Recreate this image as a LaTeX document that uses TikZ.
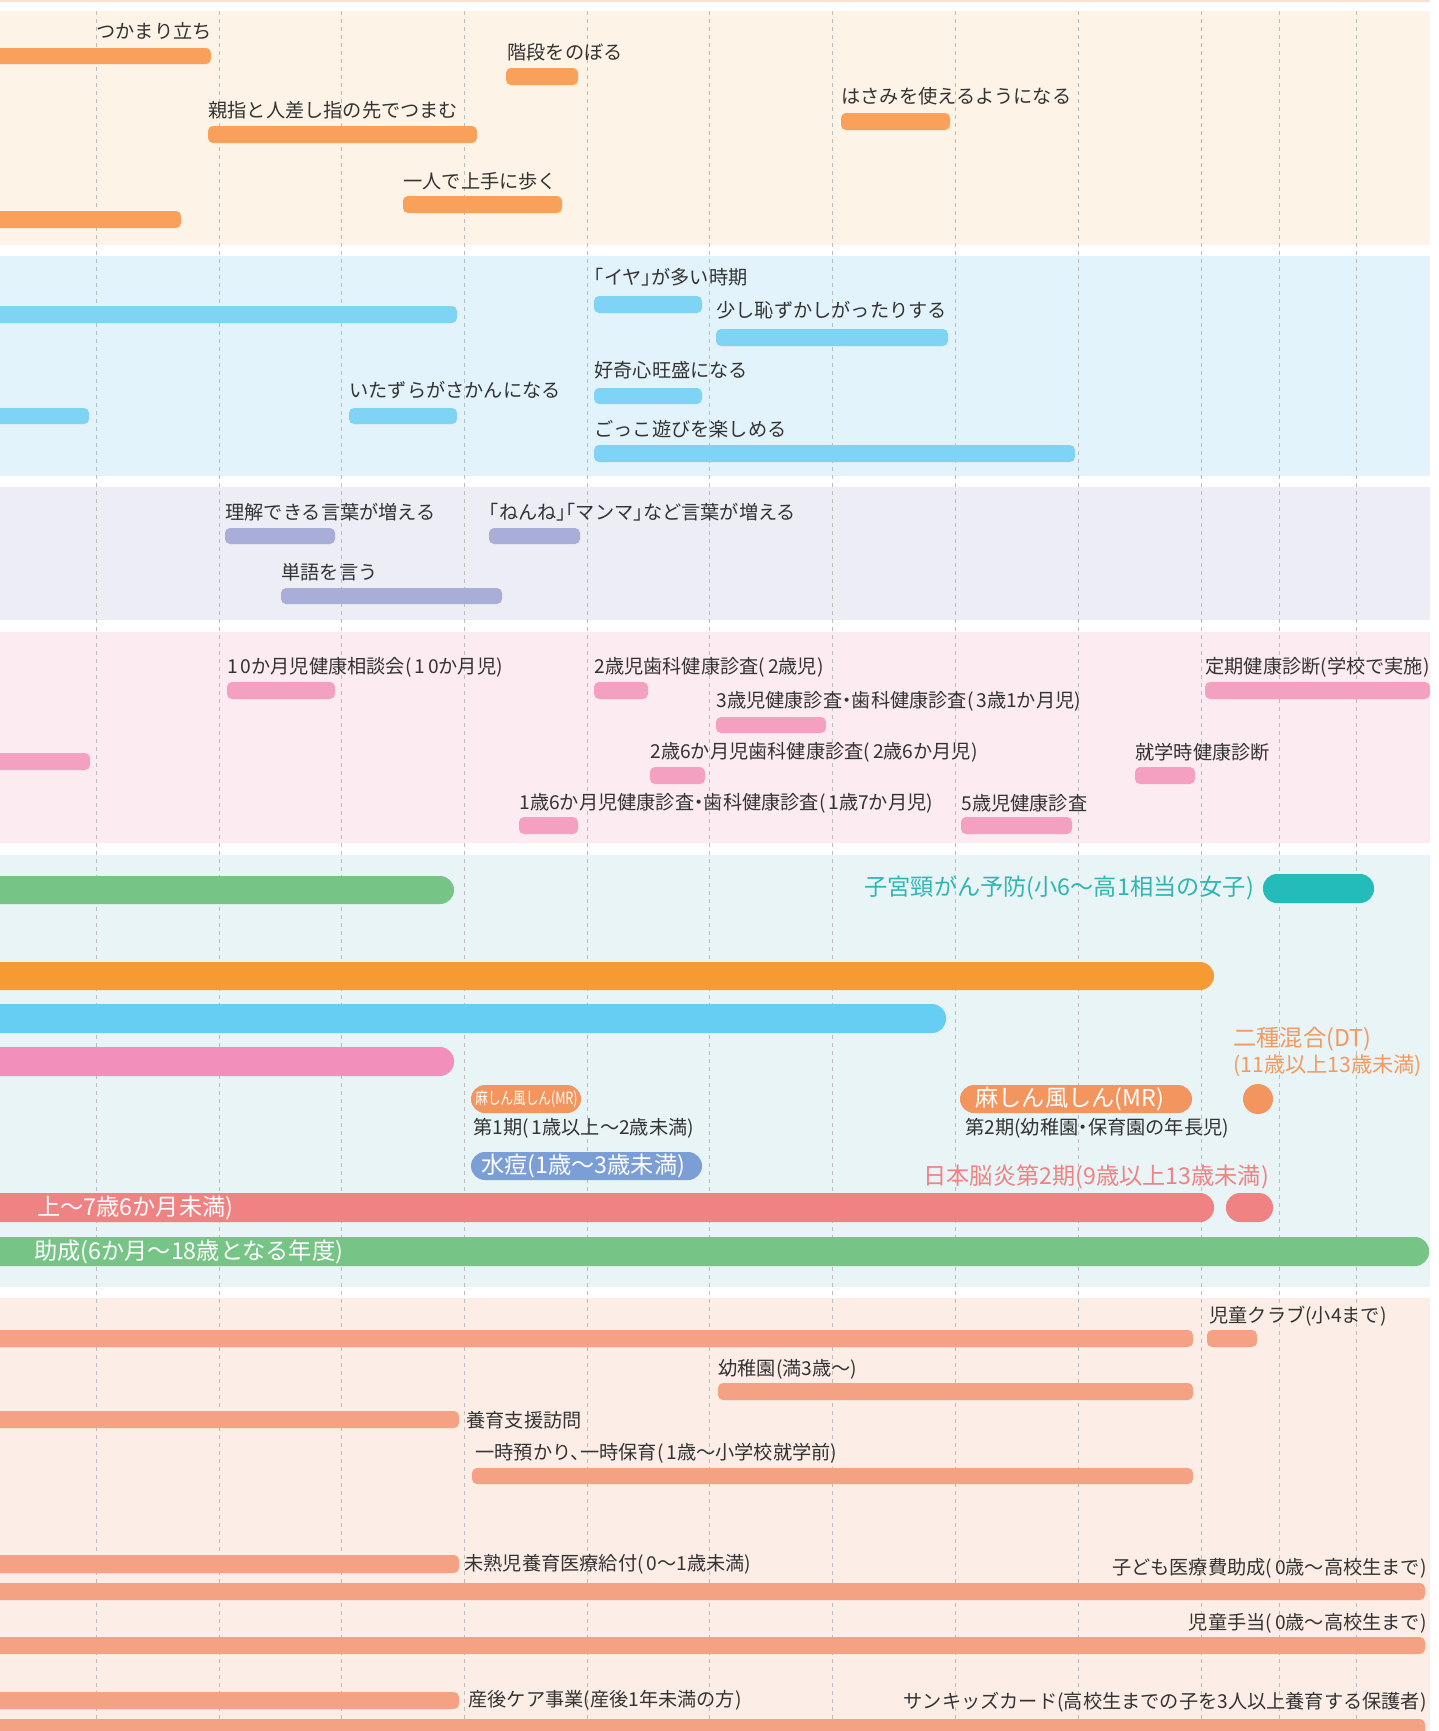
\documentclass[tikz,border=0pt]{standalone}
\usepackage{fontspec}
\setmainfont[RawFeature={+halt}]{Noto Sans CJK JP}
\newfontfamily\latinwide[LetterSpace=15]{Noto Sans CJK JP}
\newcommand{\lw}[1]{{\latinwide #1}}
\usepackage{tikz}
\usetikzlibrary{calc}

\definecolor{bandmotor}{HTML}{FDF3E6}
\definecolor{bandemo}{HTML}{E3F3FB}
\definecolor{bandlang}{HTML}{ECEDF5}
\definecolor{bandcheck}{HTML}{FCEBF1}
\definecolor{bandvac}{HTML}{E8F4F6}
\definecolor{bandsvc}{HTML}{FCEEE7}
\definecolor{topline}{HTML}{FBE0D2}
\definecolor{gridgray}{HTML}{BDBDBD}
\definecolor{txtgray}{HTML}{333333}
\definecolor{motor}{HTML}{F9A05B}
\definecolor{emo}{HTML}{7FD3F5}
\definecolor{lang}{HTML}{A9AED8}
\definecolor{check}{HTML}{F4A1C1}
\definecolor{vgreen}{HTML}{77C487}
\definecolor{vorange}{HTML}{F69B33}
\definecolor{vblue}{HTML}{66CEF3}
\definecolor{vpink}{HTML}{F290BB}
\definecolor{mrcol}{HTML}{F3955F}
\definecolor{varcol}{HTML}{7C9ED6}
\definecolor{vred}{HTML}{F08283}
\definecolor{vteal}{HTML}{23BCBA}
\definecolor{tealtxt}{HTML}{2DB6B3}
\definecolor{dttxt}{HTML}{F39A60}
\definecolor{svc}{HTML}{F4A184}

\tikzset{
  gridline/.style={draw=gridgray,line width=0.5pt,dash pattern=on 2pt off 2pt},
  thinbar/.style={rounded corners=2.5pt},
  fatbar/.style={rounded corners=7pt},
  lbl/.style={anchor=west,inner sep=0pt,text=txtgray,font=\fontsize{9.6}{10}\selectfont},
  rlbl/.style={lbl,anchor=east},
  vlbl/.style={anchor=west,inner sep=0pt,font=\fontsize{11.6}{12}\selectfont},
}

\begin{document}
\begin{tikzpicture}[x=0.5pt,y=-0.5pt]
        \useasboundingbox (0,0) rectangle (1439,1731);
        \clip (0,0) rectangle (1439,1731);
        % background bands
        \fill[topline] (0,0) rectangle (1430,2);
        \fill[bandmotor] (0,11) rectangle (1430,245);
        \fill[bandemo] (0,256) rectangle (1430,476);
        \fill[bandlang] (0,487) rectangle (1430,620);
        \fill[bandcheck] (0,632) rectangle (1430,843);
        \fill[bandvac] (0,855) rectangle (1430,1287);
        \fill[bandsvc] (0,1298) rectangle (1430,1740);
        % draw the age grid
        \foreach \gx in {96,219,341,464,587,709,832,955,1078,1201,1279,1356}
            \draw[gridline] (\gx,11) -- (\gx,1731);

        % motor development
        \fill[motor,thinbar] (-10,48) rectangle (211,64);
        \fill[motor,thinbar] (506,68) rectangle (578,85);
        \fill[motor,thinbar] (208,126) rectangle (477,143);
        \fill[motor,thinbar] (403,196) rectangle (562,213);
        \fill[motor,thinbar] (-10,211) rectangle (181,228);
        \fill[motor,thinbar] (841,113) rectangle (950,130);
        \node[lbl] (stand) at (96,31) {つかまり立ち};
        \node[lbl] (stairs) at (507,52) {階段をのぼる};
        \node[lbl] (pinch) at (208,110) {親指と人差し指の先でつまむ};
        \node[lbl] (walk) at (403,181) {一人で上手に歩く};
        \node[lbl] (scissors) at (841,96) {はさみを使えるようになる};

        % emotions
        \fill[emo,thinbar] (-10,306) rectangle (457,323);
        \fill[emo,thinbar] (594,296) rectangle (702,313);
        \fill[emo,thinbar] (716,329) rectangle (948,346);
        \fill[emo,thinbar] (594,388) rectangle (702,404);
        \fill[emo,thinbar] (349,408) rectangle (457,424);
        \fill[emo,thinbar] (-10,408) rectangle (89,424);
        \fill[emo,thinbar] (594,445) rectangle (1075,462);
        \node[lbl] (iya) at (594,277) {「イヤ」が多い時期};
        \node[lbl] (shy) at (716,310) {少し恥ずかしがったりする};
        \node[lbl] (curious) at (594,370) {好奇心旺盛になる};
        \node[lbl] (mischief) at (349,390) {いたずらがさかんになる};
        \node[lbl] (pretend) at (594,429) {ごっこ遊びを楽しめる};

        % language
        \fill[lang,thinbar] (225,528) rectangle (335,544);
        \fill[lang,thinbar] (489,528) rectangle (580,544);
        \fill[lang,thinbar] (281,588) rectangle (502,604);
        \node[lbl] (understand) at (225,512) {理解できる言葉が増える};
        \node[lbl] (nenne) at (489,512) {「ねんね」「マンマ」など言葉が増える};
        \node[lbl] (words) at (281,572) {単語を言う};

        % health checks
        \fill[check,thinbar] (227,682) rectangle (335,699);
        \fill[check,thinbar] (594,682) rectangle (648,699);
        \fill[check,thinbar] (1205,682) rectangle (1430,699);
        \fill[check,thinbar] (716,717) rectangle (826,733);
        \fill[check,thinbar] (-10,753) rectangle (90,770);
        \fill[check,thinbar] (650,767) rectangle (705,784);
        \fill[check,thinbar] (1135,767) rectangle (1195,784);
        \fill[check,thinbar] (519,817) rectangle (578,834);
        \fill[check,thinbar] (961,817) rectangle (1072,834);
        \node[lbl] (tenmonth) at (227,667) {\lw{10}か月児健康相談会\lw{(10}か月児\lw{)}};
        \node[lbl] (dental) at (594,667) {\lw{2}歳児歯科健康診査\lw{(2}歳児\lw{)}};
        \node[lbl] (school) at (1205,667) {定期健康診断\lw{(}学校で実施\lw{)}};
        \node[lbl] (three) at (716,701) {\lw{3}歳児健康診査・歯科健康診査\lw{(3}歳\lw{1}か月児\lw{)}};
        \node[lbl] (twohalf) at (650,752) {\lw{2}歳\lw{6}か月児歯科健康診査\lw{(2}歳\lw{6}か月児\lw{)}};
        \node[lbl] (entry) at (1135,752) {就学時健康診断};
        \node[lbl] (onehalf) at (519,803) {\lw{1}歳\lw{6}か月児健康診査・歯科健康診査\lw{(1}歳\lw{7}か月児\lw{)}};
        \node[lbl] (five) at (961,803) {\lw{5}歳児健康診査};

        % vaccinations
        \fill[vgreen,fatbar] (-20,876) rectangle (454,904);
        \fill[vorange,fatbar] (-20,962) rectangle (1214,990);
        \fill[vblue,fatbar] (-20,1004) rectangle (946,1033);
        \fill[vpink,fatbar] (-20,1047) rectangle (454,1076);
        \fill[mrcol,fatbar] (471,1085) rectangle (581,1113);
        \fill[mrcol,fatbar] (960,1085) rectangle (1192,1113);
        \fill[mrcol] (1258,1099) circle (7.5pt);
        \fill[varcol,fatbar] (471,1152) rectangle (702,1180);
        \fill[vred,fatbar] (-20,1193) rectangle (1214,1222);
        \fill[vred,fatbar] (1226,1193) rectangle (1273,1222);
        \fill[vgreen,fatbar] (-20,1237) rectangle (1429,1266);
        \fill[vteal,fatbar] (1263,874) rectangle (1374,903);
        \node[vlbl,text=tealtxt] (hpv) at (864,888) {子宮頸がん予防(小6〜高1相当の女子)};
        \node[vlbl,text=dttxt] (dt) at (1233,1039) {二種混合(DT)};
        \node[vlbl,text=dttxt,font=\fontsize{10.6}{12}\selectfont] (dtage) at (1233,1066) {(11歳以上13歳未満)};
        \node[anchor=west,inner sep=0pt,text=white,font=\fontsize{8.4}{9}\selectfont] (mrone) at (475,1099) {\scalebox{0.75}[1]{麻しん風しん(MR)}};
        \node[lbl] (mronetxt) at (473,1128) {第\lw{1}期\lw{(1}歳以上〜\lw{2}歳未満\lw{)}};
        \node[vlbl,text=white] (mrtwo) at (975,1099) {麻しん風しん(MR)};
        \node[lbl] (mrtwotxt) at (965,1128) {第\lw{2}期\lw{(}幼稚園・保育園の年長児\lw{)}};
        \node[vlbl,text=white] (varicella) at (481,1166) {水痘(1歳〜3歳未満)};
        \node[vlbl,text=vred] (je) at (923,1177) {日本脳炎第2期(9歳以上13歳未満)};
        \node[vlbl,text=white] (jeone) at (37,1208) {上〜7歳6か月未満)};
        \node[vlbl,text=white] (flu) at (34,1252) {助成(6か月〜18歳となる年度)};

        % support services
        \fill[svc,thinbar] (-10,1330) rectangle (1193,1347);
        \fill[svc,thinbar] (1207,1330) rectangle (1257,1347);
        \fill[svc,thinbar] (718,1383) rectangle (1193,1400);
        \fill[svc,thinbar] (-10,1411) rectangle (459,1428);
        \fill[svc,thinbar] (472,1468) rectangle (1193,1484);
        \fill[svc,thinbar] (-10,1555) rectangle (459,1573);
        \fill[svc,thinbar] (-10,1583) rectangle (1425,1600);
        \fill[svc,thinbar] (-10,1637) rectangle (1425,1654);
        \fill[svc,thinbar] (-10,1692) rectangle (459,1709);
        \fill[svc,thinbar] (-10,1719) rectangle (1425,1745);
        \node[lbl] (club) at (1209,1316) {児童クラブ\lw{(}小\lw{4}まで\lw{)}};
        \node[lbl] (kinder) at (718,1369) {幼稚園\lw{(}満\lw{3}歳〜\lw{)}};
        \node[lbl] (visit) at (466,1420) {養育支援訪問};
        \node[lbl] (daycare) at (475,1453) {一時預かり、一時保育\lw{(1}歳〜小学校就学前\lw{)}};
        \node[lbl] (premature) at (464,1564) {未熟児養育医療給付\lw{(0}〜\lw{1}歳未満\lw{)}};
        \node[rlbl] (medical) at (1427,1568) {子ども医療費助成\lw{(0}歳〜高校生まで\lw{)}};
        \node[rlbl] (allowance) at (1427,1623) {児童手当\lw{(0}歳〜高校生まで\lw{)}};
        \node[lbl] (postnatal) at (468,1700) {産後ケア事業\lw{(}産後\lw{1}年未満の方\lw{)}};
        \node[rlbl] (kids) at (1427,1702) {サンキッズカード\lw{(}高校生までの子を\lw{3}人以上養育する保護者\lw{)}};
    \end{tikzpicture}
\end{document}
